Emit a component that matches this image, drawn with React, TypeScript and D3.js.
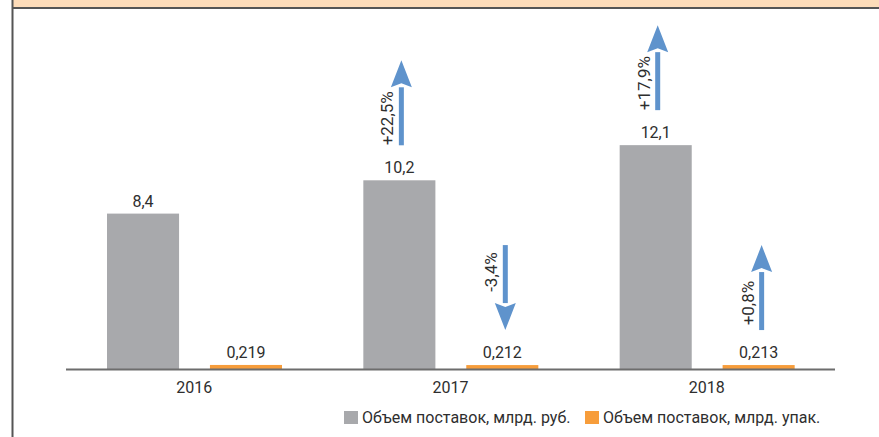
import React, { useRef, useEffect } from 'react';
import * as d3 from 'd3';

const years = ['2016', '2017', '2018'];
const volumeRub = [8.4, 10.2, 12.1];
const volumePacks = [0.219, 0.212, 0.213];
const rubLabels = ['8,4', '10,2', '12,1'];
const packLabels = ['0,219', '0,212', '0,213'];
const rubChange = [null, '+22,5%', '+17,9%'];
const packChange = [null, '-3,4%', '+0,8%'];
const legendNames = ['Объем поставок, млрд. руб.', 'Объем поставок, млрд. упак.'];

const W = 879, H = 437;
const GRAY = '#a8a9ac', ORANGE = '#f79d3b', BLUE = '#5f93cc', TEXT = '#2e2e2e';
const FONT = 'Roboto, "Noto Sans", sans-serif';

export default function App() {
  const svgRef = useRef<SVGSVGElement>(null);

  useEffect(() => {
    const svg = d3.select(svgRef.current);
    svg.selectAll('*').remove();

    // frame: peach strip on top, dark rules
    svg.append('rect').attr('x', 12).attr('y', 0).attr('width', W - 12).attr('height', 7).attr('fill', '#fddcb9');
    svg.append('line').attr('x1', 12).attr('x2', W).attr('y1', 8).attr('y2', 8)
      .attr('stroke', '#555').attr('stroke-width', 2);
    svg.append('line').attr('x1', 12.5).attr('x2', 12.5).attr('y1', 0).attr('y2', H)
      .attr('stroke', '#555').attr('stroke-width', 2);

    const baseY = 369;
    const x = d3.scaleBand().domain(years).range([66, 835]).padding(0);
    const xs = d3.scaleBand().domain(['rub', 'pack']).range([41, 216]).paddingInner(0.3);
    const y = d3.scaleLinear().domain([0, 10]).range([baseY, baseY - 185]);

    const g = svg.append('g').attr('font-family', FONT);

    // bars
    g.selectAll('rect.rub').data(volumeRub).enter().append('rect')
      .attr('x', (d, i) => x(years[i])! + xs('rub')!)
      .attr('y', d => y(d))
      .attr('width', xs.bandwidth())
      .attr('height', d => baseY - y(d))
      .attr('fill', GRAY);
    g.selectAll('rect.pack').data(volumePacks).enter().append('rect')
      .attr('x', (d, i) => x(years[i])! + xs('pack')!)
      .attr('y', d => y(d))
      .attr('width', xs.bandwidth())
      .attr('height', d => baseY - y(d))
      .attr('fill', ORANGE);

    // axis line
    g.append('line').attr('x1', 66).attr('x2', 835).attr('y1', baseY + 0.5).attr('y2', baseY + 0.5)
      .attr('stroke', '#6d6d6d').attr('stroke-width', 2);

    // value labels
    const cx = (i: number, s: string) => x(years[i])! + xs(s)! + xs.bandwidth() / 2;
    g.selectAll('text.rubv').data(volumeRub).enter().append('text')
      .attr('x', (d, i) => cx(i, 'rub'))
      .attr('y', d => y(d) - 7)
      .attr('text-anchor', 'middle').attr('font-size', 16).attr('fill', TEXT)
      .text((d, i) => rubLabels[i]);
    g.selectAll('text.packv').data(volumePacks).enter().append('text')
      .attr('x', (d, i) => cx(i, 'pack'))
      .attr('y', d => y(d) - 7)
      .attr('text-anchor', 'middle').attr('font-size', 16).attr('fill', TEXT)
      .text((d, i) => packLabels[i]);

    // category labels
    g.selectAll('text.year').data(years).enter().append('text')
      .attr('x', d => x(d)! + x.bandwidth() / 2)
      .attr('y', 393)
      .attr('text-anchor', 'middle').attr('font-size', 16).attr('fill', TEXT)
      .text(d => d);

    // change arrows
    const arrowLen = 85, gap = 35;
    const drawArrow = (ax: number, bottom: number, label: string) => {
      const up = !label.startsWith('-');
      const top = bottom - arrowLen;
      const tip = up ? top : bottom;
      const tail = up ? bottom : top;
      const headBase = up ? tip + 27 : tip - 27;
      g.append('line').attr('x1', ax).attr('x2', ax).attr('y1', tail).attr('y2', headBase)
        .attr('stroke', BLUE).attr('stroke-width', 5);
      g.append('path')
        .attr('d', `M${ax},${tip} L${ax + 10.5},${headBase} L${ax},${headBase + (up ? -4 : 4)} L${ax - 10.5},${headBase} Z`)
        .attr('fill', BLUE);
      const ly = up ? (top + 27 + bottom) / 2 + 2 : (top + bottom - 27) / 2 - 2;
      g.append('text')
        .attr('transform', `translate(${ax - 8},${ly}) rotate(-90)`)
        .attr('text-anchor', 'middle').attr('font-size', 17).attr('fill', TEXT)
        .text(label);
    };
    volumeRub.forEach((d, i) => {
      if (rubChange[i]) drawArrow(cx(i, 'rub') + 2, y(d) - gap, rubChange[i]!);
    });
    volumePacks.forEach((d, i) => {
      if (packChange[i]) drawArrow(cx(i, 'pack') + 3, y(d) - gap, packChange[i]!);
    });

    // legend
    const legend = g.append('g').attr('transform', 'translate(344,411)');
    const items = [{ name: legendNames[0], color: GRAY, x: 0 }, { name: legendNames[1], color: ORANGE, x: 241 }];
    items.forEach(it => {
      legend.append('rect').attr('x', it.x).attr('y', 0).attr('width', 14).attr('height', 13).attr('fill', it.color);
      legend.append('text').attr('x', it.x + 18).attr('y', 12).attr('font-size', 16).attr('fill', TEXT).text(it.name);
    });
  }, []);

  return (
    <svg ref={svgRef} width={W} height={H}
      style={{ position: 'absolute', left: 0, top: 0, background: '#fff' }} />
  );
}
